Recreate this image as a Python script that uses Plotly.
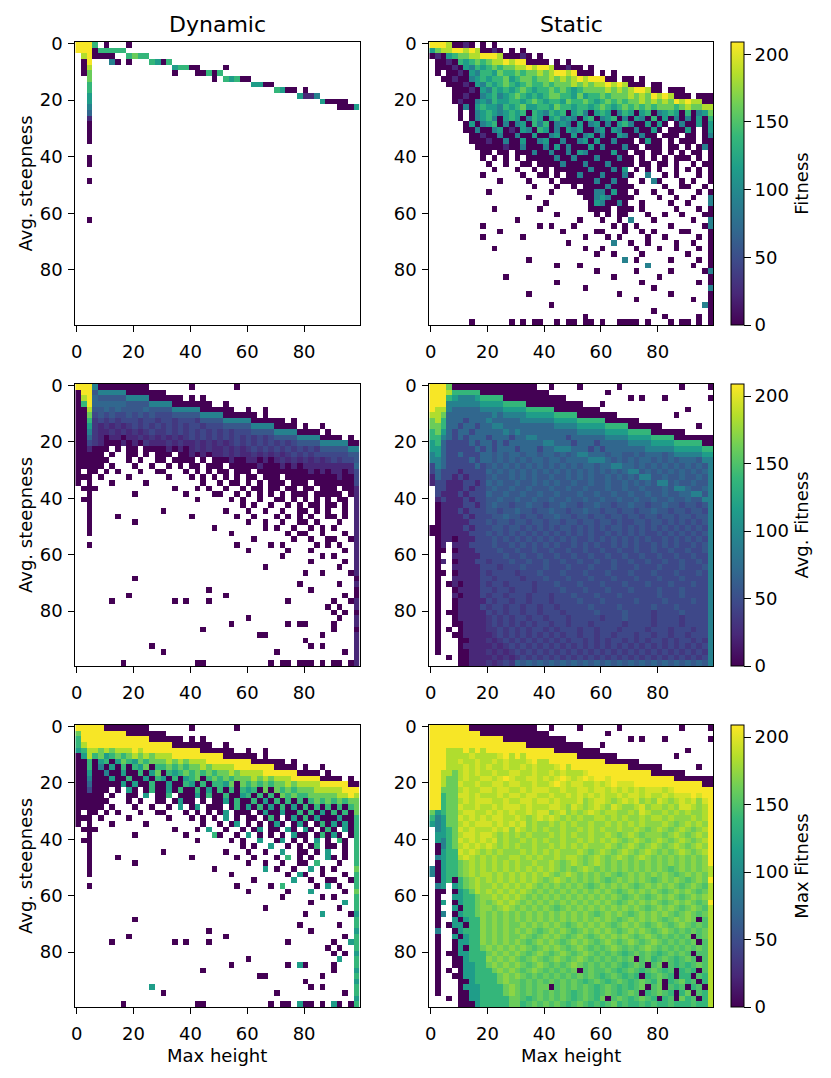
import plotly.graph_objects as go

# 2x2-bin cells, one character per cell:
# '.' = empty bin, digit d = fitness d*23, letters a..i = half steps (0.5..8.5)*23
step = 23
zmax = 209
half_steps = "abcdefghi"

dyn_fitness = [
    "9996. 0...0",
    "99906 6666",
    ".8900 00..6 766",
    ".09.. .40.0 ...65 06",
    ".08.. ..... ..... ..566 00... .0",
    ".07.. ..... ..... ..0.. .0060 6",
    "..7.. ..... ..... ..... ....0 .6560 0",
    "..6.. ..... ..... ..... ..... ..... .5500",
    "..6.. ..... ..... ..... ..... ..... ..... 6500. 0",
    "..5.. ..... ..... ..... ..... ..... ..... ....5 114",
    "..5.. ..... ..... ..... ..... ..... ..... ..... ...50 000",
    "..4.. ..... ..... ..... ..... ..... ..... ..... ..... .0005",
    "..3", "..1", "..0", "..0", "..0", "..0", "", "",
    "..0", "..0", "", "", "..0", "", "", "", "", "", "", "..0",
    "", "", "", "", "", "", "", "", "", "", "", "", "", "", "", "", "", "",
]

stat_fitness = [
    "99980 010.0 .0",
    "57889 98980 010.0 .0",
    "01056 77889 99800 010.0",
    ".0010 65676 78898 99000 0.0.0",
    ".0001 05465 67677 88989 98001 00.0",
    ".0.00 10546 65766 76778 78998 9000. 0.0",
    "..001 00456 56675 67767 78787 89899 900.0 0.0",
    "...00 01054 65676 56766 76777 87878 89898 000.0 0",
    "....0 00105 46565 67656 67676 56777 78787 89980 0.000",
    "....0 01004 56456 76565 67766 57566 76777 87879 89800 0.000",
    "....0 10045 46556 65676 56657 66765 67676 77878 78798 98800",
    "..... 04056 55465 67556 65766 56656 76567 67676 77767 87788",
    "..... 0.045 65456 56065 46560 56405 65046 50560 45650 60457",
    "..... 0.045 64056 50465 05645 40560 45604 05406 05040 40506",
    "..... .0504 56040 45064 60454 05045 04056 40050 50.04 00505",
    "..... .0040 04501 05406 50405 45004 50540 04005 0.000 50.05",
    "..... ..001 00400 40050 04500 50450 40054 00400 .000. 00.04",
    "..... ..000 10040 05004 50040 04505 00400 0.050 0.0.0 00.00",
    "..... ...00 00010 04000 40504 00050 40004 00.00 0.00. 0.040",
    "..... ....0 0.00. 00040 04004 05400 00500 .00.0 0.0.0 .00.0",
    "..... ....0 .0.0. 0.000 00400 40004 00040 0.0.0 .0.00 0.0.0",
    "..... ..... 0..0. .00.0 00040 00400 04000 0.00. 00.0. .0.00",
    "..... ..... .0... 0..0. 0.000 00040 00405 .0.0. 0..0. 0.0.0",
    "..... ....0 ..... .0..0 0.0.0 04000 40004 0..4. .0.0. ..0.0",
    "..... ..... ..0.. ..0.. .0.00 00004 00400 ..0.4 0...0 .0..0",
    "..... ..... ..... ...0. ..0.. 0.000 04000 0.... .0..0 0..0.",
    "..... ..... 0.... ..... .0... .0004 40500 .0..0 ..0.. ..0.0",
    "..... ..... ..... ..0.. ..... ..004 54000 0.... 0..0. .0..4",
    "..... ..... ..... ..... 0.... ...05 40040 ..0.. ..0.. 0...4",
    "..... ..... .0... ....0 ..... ...00 00.00 0.0.. ...0. ..0.0",
    "..... ..... ..... ..... ..0.. ....0 .0.00 ...0. .0..0 ...00",
    "..... ..... ..... 0.... ..... .0... 0..0. 4...0 ..... .0..4",
    "..... ....0 ..... ....0 .0... 0.... ..0.0 .0... ..0.. ...04",
    "..... ..... ..0.. ..... ...0. ....0 0...0 ..0.0 ....0 0...0",
    "..... ....0 ..... .0... ..... ..0.. .0.0. ...0. .0... ..0.0",
    "..... ..... ..... ..... ....0 ..... ..4.. 0..0. ...0. .0..0",
    "..... ..... .0... ..... ..... ..0.. 0.... .0... 0..0. ..0.0",
    "..... ..... ..... ..... ..... ....0 ..0.. ..0.. ..... 0...0",
    "..... ..... ..... ..0.. ..... ..... ....4 .0... ..0.. ..0.0",
    "..... ..... ..... ..... ..0.. .0... ..... ...4. ..... .0..0",
    "..... ..... ..... ..... ..... ....0 ..... .0... ..0.. ...04",
    "..... ..... ...0. ..... ..... ..... ..0.. ..... 0.... ....0",
    "..... ..... ..... ..... ..0.. ..... ..... ..0.. ..... ..0.0",
    "..... ..... ..... ..... ..... ..0.. ..... ....0 ..... ....4",
    "..... ..... ..... ..0.. ..... ..... ...0. ..... ..0.. ....0",
    "..... ..... ..... ..... ..... ..... ..... .0... ..... .0..0",
    "..... ..... ..... ..... .0... ..... ..... ..... ..... ...40",
    "..... ..... ..... ..... ..... ..... ..... ....0 ..... ....0",
    "..... ..... ..... ..... ..... ..0.. ..... ..... .0... ..0.0",
    "..... ..0.. ....0 .0.00 ..0.0 0.00. 0..00 00.0. ..0.0 0.0.0",
]

dyn_avg = [
    "99940 00000 000.. ..... 0.... ...0.",
    "099c4 44440 00000 0....",
    "0893c cccc4 44400 0000. 0.0..",
    "06933 3333c ccc44 44000 0000. .0...",
    "008cc 3c3cc cc3cc cc444 44000 000.. 0..0.",
    "0072c 2c22c 2c2c2 22ccc cc444 40000 00.0.",
    "006b2 b2b22 2b22b 22b22 2bccc c4444 40000 00.0.",
    "005b1 b1b1b 2b2b2 b2b2b 22b22 2cccc c4444 0000. 0..0.",
    "004b1 1b1b1 b1b2b b2b2b 2b2b2 b2b22 2cccc 44440 000.0",
    "003b1 01101 1b1b1 b1b1b 2b2b2 b2b2b 2b2b2 cccc4 44400 00.0.",
    "002b1 00010 10b11 1b1b1 1b1b1 b1b2b 2b2b2 b2b2c ccc44 44400",
    "00100 0.0.0 0.000 01010 1b1b1 1b1b1 b2b2b 2b2b2 b2bcc ccc44",
    "00000 .0..0 0.0.0 00.00 10101 1b1b1 1b1b1 b1b2b 2b222 222cc",
    "00000 0...0 .0..0 0.000 0.0.0 00100 11010 1b1b1 b1b1b 2b22c",
    "00000 .0... 0..0. .0.0. 00.00 0.000 00100 01010 11111 11113",
    "0.00. 0.0.. .0..0 0...0 .0.0. 00.00 0.000 00000 01010 11012",
    "000.0 ....0 ..... .0... 0.0.0 .0.0. 00.00 0.000 00000 01002",
    "0.0.. .0... ..0.. ..... ..0.. 0.00. 0.0.0 00.00 0.000 00002",
    ".000. ..... ..... ..0.. .0.0. .0..0 .00.0 0.00. 00.00 0.001",
    "..0.. ..... 0.... ....0 ....0 0..0. 0.0.0 .0.00 0.000 00.01",
    ".00.. ..... ..... ..... .0... ..0.0 ..0.. 00.0. 0.0.0 .00.1",
    "..0.. ..... ..... ..... ..... ....0 .0..0 ..0.0 .00.0 0.0.1",
    "..0.. ..... ..... 0.... ..... .0... 0..0. .0..0 0.0.0 ..0.1",
    "..0.. ..0.. ..... ..... 0.... ...0. .0... 0.0.0 .0..0 0.0.1",
    "..0.. ..... 0.... ..... ..... ..... 0..0. .0..0 0.0.. .0..1",
    "..0.. ..... ..... ..... ....0 ..... ...0. 0..0. .0.0. 0...1",
    "..0.. ..... ..... ..... ..... ..0.. ..... ..0.0 0..0. ..0.1",
    "..... ..... ..... ..... ..... ..... .0... ...0. .0..0 0..01",
    "..0.. ..... ..... ..... ..... ...0. ....0 .0... ..0.0 .0..1",
    "..... ..... ..... ..... ..... ..... 0.... ..0.. .0... ..0.1",
    "..... ..... ..... ..... ..... ..... ..... .0... ...0. 0...1",
    "..... ..... ..... ..... ..... ..... ..... ..... .0... ..0.1",
    "..... ..... ..... ..... ..... ..... ...0. ..... ..... .0..1",
    "..... ..... ..... ..... ..... ..... ..... ..... 0..0. ...01",
    "..... ..... 0.... ..... ..... ..... ..... ..... ..... ....0",
    "..... ..... ..... ..... ..... ..... ..... ....0 ..... .0..1",
    "..... ..... ..... ..... ...0. ..... ..... ..... .0... ....0",
    "..... ....0 ..... ..... ..... .0... ..... ..... ..... ..0.0",
    "..... .0... ..... ..0.0 ...0. ..... ..... ..0.. ..... 0..01",
    "..... ..... ..... ..... ..... ..... ..... ..... ....0 .0..1",
    "..... ..... ..... ..... ..... ..... ..... ..... ..... 0.0.0",
    "..... ..... ..... ..... ..... ..... 0.... ..... ..... .0..1",
    "..... ..... ..... ..... ..... ..0.. ..... ..0.0 0.... 0...1",
    "..... ..... ..... ..... ..0.. ..... ..... ..... ..... 0...0",
    "..... ..... ..... ..... ..... ..... ..00. ..... ...0. ....1",
    "..... ..... ..... ..... ..... ..... ..... ..... 0.... ....1",
    "..... ..... ...0. ..... ..... ..... ..... ..... .0.0. ....1",
    "..... ..... ..... 0.... ..... ..... ..... 0.... ..... ..0.1",
    "..... ..... ..... ..... ..... ..... ..... ..... ..... ....1",
    "..... ...0. ..... ..... .00.. ..... ....0 .00.0 00.0. 00.01",
]

stat_avg = [
    "99970 00000 00000 0000. .0... .0... ...0. ..... ....0 ....0",
    "99986 66660 00000 00000 0.... ..... .0... ..... ..... .....",
    "99965 44456 66600 00000 0000. ..... ..... 0.0.. .0... ....0",
    "99944 44445 55566 66000 00000 00... 0.... ..... ..... .....",
    "98843 33334 44455 55666 66000 00000 ..... ..... ..... 0....",
    "88733 33333 34344 44555 55666 60000 000.. ..... ...0. .....",
    "78633 32333 43333 34444 44555 56666 60000 00... ..... .....",
    "77633 23323 34433 33333 33444 45555 56666 00000 0.... ..0..",
    "67532 33233 33343 43333 33333 34444 45555 66660 00000 .....",
    "66432 32333 23332 33443 33332 33333 34444 55556 66600 00000",
    "56322 22323 32323 33333 44333 23332 33333 44445 55566 66600",
    "55322 22232 32333 23332 33444 33323 23333 33344 44455 55566",
    "45322 32223 3c3c3 3c33c 33c3c 34433 3c33c c3c33 3c344 44455",
    "44322 22323 3c3c3 c3c33 c33c3 33344 43c3c 3c33c 3c3c3 33c44",
    "24322 22232 c3c3c 3c3c3 c3c3c 3c33c 33443 3c3c3 c3c3c 3c3c4",
    "23222 12222 3c3c3 c3c3c 3c3c3 c3c3c 3c3c3 44c3c 3c3c3 c3c34",
    "13221 21222 c3cc3 c3c3c c3cc3 c3c3c c3c3c 3c44c c3cc3 cc3c4",
    "12211 12212 3c3cc 3cc3c 3c3cc 3cc3c c3cc3 c3c3c 44c3c c3cc4",
    ".2211 12122 c3cc3 cc3cc c3cc3 cc3cc c3cc3 cc3cc c3c44 3cc34",
    ".2111 21222 3cc3c c3cc3 cc3cc c3cc3 cc3cc 3cc3c c3cc3 344c4",
    ".1211 12122 cc3cc 3cc3c c3cc3 cc3cc 3cc3c c3cc3 cc3cc 3cc44",
    ".0111 12212 c3cc2 cc3cc 2cc3c c2cc3 cc2cc 3cc2c c3cc2 cc2c4",
    ".0111 21222 cc2cc 3cc2c c3cc2 cc3cc 2cc2c c2cc3 cc2cc 2cc24",
    ".0111 12122 2cc3c c2cc2 cc3cc 2cc2c c2cc2 cc2cc 2cc2c c2cc4",
    ".0111 11222 c2cc2 cc2cc 2cc2c c2cc2 cc2c2 2cc2c c2c2c 2c2c4",
    "00111 12122 2cc2c c2c2c 2c2cc 2c2c2 c2cc2 c2c2c 2c2c2 c2c24",
    "00111 11222 c2c2c 2c2c2 c2c2c 2c2c2 2c2c2 c2c22 c2c2c 2c2c4",
    ".0110 11122 2c2c2 c2c2c 2c2c2 c22c2 c2c2c 2c2c2 2c2c2 c2c24",
    ".01.1 11222 2c22c 2c2c2 c2c22 c2c2c 22c2c 2c22c 2c2c2 2c2c4",
    ".00.0 11122 22c22 c22c2 2c22c 22c22 c22c2 2c22c 22c22 c22c4",
    ".0..1 11112 222c2 2c22c 22c22 c22c2 2c22c 22c22 c22c2 2c224",
    ".01.0 11122 b222c 22c22 c22c2 2c22c 22c22 c22c2 2c22c 22c24",
    ".0..1 11112 22b22 2c222 c222c 222c2 22c22 2c222 c222c 222c4",
    ".00.0 11112 b2222 b222c 222c2 22c22 2c222 c222c 222c2 22c24",
    ".0..1 11112 2b222 2b222 c222c 222c2 22c22 2c222 c222c 22224",
    ".0.01 01112 b22b2 222b2 22c22 2c222 c222c 222c2 22c22 2c224",
    ".0..0 11112 2b22b 222b2 222c2 22c22 2c222 c2222 c222c 22224",
    ".0..1 01112 b22b2 22b22 2b222 c222c 222c2 22222 c222c 22224",
    ".0..0 11111 2b22b 22b22 2b222 2c222 c2222 2c222 2c222 2c224",
    ".0..0 11112 b22b2 2b22b 22b22 222c2 222c2 2222c 222c2 22224",
    ".0.00 11111 2b2b2 2b22b 222b2 2222c 2222c 2222b 2222c 22224",
    ".0..0 11111 b2b2b 22b22 b222b 22222 b222c 2222b 2222b 22224",
    ".0..0 01111 b2b2b 2b2b2 2b22b 222b2 2222b 2222b 2222b 22224",
    ".0.0. 01111 bb2b2 b2b22 b2b22 2b22b 222b2 222b2 22b22 2b224",
    ".0..0 01111 1b2b2 b2b2b 2b2b2 2b22b 22b22 2b22b 22b22 b2224",
    ".0... 00111 b1b2b 2b2b2 b2b2b 22b2b 2b22b 2b2b2 2b2b2 2b2b4",
    ".0... 01111 1b1b2 b2b2b 2b2b2 b2b2b 2b2b2 b2b2b 2b2b2 b2b24",
    ".0... 00111 b1b1b 2b2b2 b2b2b 2b2b2 b2b2b 2b2b2 b2b2b 2b2b4",
    "...0. 00111 1b1b1 b2b2b 2b2b2 b2b2b 2b2b2 b2b2b 2b2b2 b2b24",
    "..... 00111 b1b2b 3c3c3 c3c3c 3c3c3 c3c3c 3c3c3 c3c3c 3c3c4",
]

dyn_max = [
    "99999 00000 000.. ..... 0.... ...0.",
    "79999 99990 00000 0....",
    "69999 99999 99900 0000. 0.0..",
    "68999 99999 99999 99000 0000. .0...",
    "56887 87888 98999 99999 99000 000.. 0..0.",
    "05867 56767 87878 88999 99999 90000 00.0.",
    "00605 60576 57677 78787 88899 99999 90000 00.0.",
    "00604 05060 65706 67676 77878 88899 99999 0000. 0..0.",
    "00500 40050 06057 06567 67676 77878 88899 99990 000.0",
    "00400 05006 00506 50605 67067 67677 78787 88899 99900 00.0.",
    "00300 00050 50060 05006 50606 65707 67676 77878 88899 99900",
    "00200 0.0.5 0.060 05060 06050 60606 56070 76767 77888 88999",
    "00000 .0..0 0.5.0 06.00 05060 06005 60606 07676 67777 78898",
    "00000 0...0 .0..0 0.050 0.0.0 05060 06050 60606 06767 67677",
    "00000 .0... 0..0. .0.5. 05.00 0.060 50605 06050 60606 06067",
    "0.00. 0.0.. .0..0 0...0 .0.0. 05.00 0.050 05006 06050 60607",
    "000.0 ....0 ..... .0... 0.0.0 .5.0. 00.06 0.050 60500 05006",
    "0.0.. .0... ..0.. ..... ..0.. 0.05. 0.0.0 50.05 0.060 50506",
    ".000. ..... ..... ..0.. .0.5. .0..0 .05.0 0.50. 50.06 0.506",
    "..0.. ..... 0.... ....0 ....6 0..0. 5.0.0 .0.50 0.060 50.06",
    ".00.. ..... ..... ..... .0... ..0.0 ..5.. 05.0. 0.5.0 .60.6",
    "..0.. ..... ..... ..... ..... ....0 .0..5 ..0.0 .06.0 0.0.6",
    "..0.. ..... ..... 0.... ..... .0... 0..0. .5..0 0.0.5 ..0.6",
    "..0.. ..0.. ..... ..... 0.... ...0. .0... 0.6.0 .0..5 0.0.6",
    "..0.. ..... 0.... ..... ..... ..... 0..0. .0..0 0.6.. .0..6",
    "..0.. ..... ..... ..... ....0 ..... ...5. 0..0. .5.0. 0...7",
    "..0.. ..... ..... ..... ..... ..0.. ..... ..0.5 0..0. ..0.6",
    "..... ..... ..... ..... ..... ..... .0... ...5. .0..0 0..06",
    "..0.. ..... ..... ..... ..... ...0. ....0 .6... ..0.5 .0..6",
    "..... ..... ..... ..... ..... ..... 0.... ..0.. .5... ..0.7",
    "..... ..... ..... ..... ..... ..... ..... .0... ...0. 0...6",
    "..... ..... ..... ..... ..... ..... ..... ..... .0... ..5.6",
    "..... ..... ..... ..... ..... ..... ...0. ..... ..... .0..6",
    "..... ..... ..... ..... ..... ..... ..... ..... 0..5. ...05",
    "..... ..... 0.... ..... ..... ..... ..... ..... ..... ....6",
    "..... ..... ..... ..... ..... ..... ..... ....0 ..... .0..6",
    "..... ..... ..... ..... ...0. ..... ..... ..... .0... ....5",
    "..... ....0 ..... ..... ..... .0... ..... ..... ..... ..0.6",
    "..... .0... ..... ..0.0 ...0. ..... ..... ..0.. ..... 0..56",
    "..... ..... ..... ..... ..... ..... ..... ..... ....0 .0..6",
    "..... ..... ..... ..... ..... ..... ..... ..... ..... 0.0.5",
    "..... ..... ..... ..... ..... ..... 0.... ..... ..... .5..6",
    "..... ..... ..... ..... ..... ..0.. ..... ..0.5 0.... 0...6",
    "..... ..... ..... ..... ..0.. ..... ..... ..... ..... 0...5",
    "..... ..... ..... ..... ..... ..... ..00. ..... ...0. ....6",
    "..... ..... ..... ..... ..... ..... ..... ..... 0.... ....5",
    "..... ..... ...5. ..... ..... ..... ..... ..... .0.0. ....6",
    "..... ..... ..... 0.... ..... ..... ..... 0.... ..... ..0.6",
    "..... ..... ..... ..... ..... ..... ..... ..... ..... ....5",
    "..... ...0. ..... ..... .00.. ..... ....0 .00.5 00.0. 50.06",
]

stat_max = [
    "99999 99000 00000 0000. .0... .0... ...0. ..... ....0 ....0",
    "99999 99990 00000 00000 0.... ..... .0... ..... ..... .....",
    "99999 99999 99900 00000 0000. ..... ..... 0.0.. .0... ....0",
    "99999 99999 99999 99000 00000 00... 0.... ..... ..... .....",
    "99988 89898 99999 99999 99000 00000 ..... ..... ..... 0....",
    "99988 88i88 88i98 98999 99999 90000 000.. ..... ...0. .....",
    "99988 i88i8 8i8i8 88i98 89999 99999 90000 00... ..... .....",
    "99988 8i8i8 i88i8 8i8i8 88i98 99999 99999 00000 0.... ..0..",
    "99887 8i8i8 8i88i i88i8 8i8i8 88i99 99999 99990 00000 .....",
    "99877 8i88i i8i9i 88ii8 i8i9i 8i9i9 9i999 99999 99900 00000",
    "99877 i88i8 8ii8i i88i8 8i9i8 ii88i 8i9ii i9999 99999 99900",
    "99777 8i88i i8ii8 8i8ii i88i8 8ii8i i8i8i 8i8ii i8i99 99999",
    "99677 ii8i8 88i8i i8ii8 8i88i 8i8i8 i88i8 ii8i8 8i8ii i9i99",
    "99677 8i8ii i88i8 8ii8i i8i88 8ih8i i8h8i 8ih8h i8h8i 8ihi9",
    "99677 i88i8 8i8ii i8i88 8ii8h i8h8i 8hi8h h8ih8 8h8hi i8h89",
    "75677 8ii88 i8i8i 88i8i ih8ih 8h8i8 h88hh 8hi8h h8h8h 8hh89",
    "64577 i8i8i 8ii88 i8h8i 8i8h8 h8hh8 8h8h8 hh8h8 8h8hh h8h89",
    "54577 8i8ii i8i8i 8ih8h h8h8h 8hh8h h8h8h 8h8hh h8h7h 8h8h9",
    ".4567 i8i88 8i8ih i8h8h 8hh8h h8h8h 8hh8h h8h7h 8h7h8 h7h89",
    ".5567 8ii8i i8h8h 8h8hh h8h8h 8hh8h h8h7h 8h7hh h7h8h 7h8h9",
    ".5467 i8i8i 8ih8h h8h8h 8hh8h h8h8h 8h8h7 h8h7h 8h7h8 h7h89",
    ".0467 8i8i8 i8h8h 8hh8h h8h8h 8h8hh h8h7h 8h7h8 h7h8h 7h8h9",
    ".0566 i8i8h 8h8hh h8h8h 8h8hh h8h7h 8h7h8 h7h8h 7h7h8 h7h89",
    ".4566 8i8h8 h8hh8 8h8h8 hh8h8 8h7h8 h7h8h 7h8h7 h7h7h 7h7h9",
    ".0566 7h8h8 h8h8h 8hh8h h8h7h 8h7h8 h7h7h 7h7h7 h7h7h 7h7h9",
    "40566 7h8h8 h8h8h 8h8h8 h8h7h 7h8h7 h7h7h 7h7h7 h7g7h 7h7h8",
    "40566 7h8h8 8h8h8 h8h8h 8h7h8 h7h7h 7h7g7 h7h7h 7h7g7 h7h78",
    ".0560 67h8h 8h8h8 h8h8h 7h8h7 h7h7h 7g7h7 h7h7g 7h7h7 g7h79",
    ".45.5 67h8h h8h8h 8h8h7 h7h7h 7h7g7 h7h7h 7g7h7 h7h7g 7h7g8",
    ".00.0 5678h 8h8h8 h8h7h 7h7h7 h7h7h 7h7g7 h7h7h 7g7h7 h7g78",
    ".0..5 5667h h8h8h 8h7h7 h7h7h 7h7h7 h7h7g 7h7g7 h7h7g 7h7h8",
    ".05.0 5667h 7h8h8 h7h7h 7h7h7 h7h7h 7h7g7 h7h7h 7g7h7 h7g79",
    ".0..5 0667h h7h8h 7h7h7 h7g7h 7h7h7 h7h7h 7h7g7 h7h7g 7h7g8",
    ".04.0 5667h 7h7h7 h7h7h 7h7h7 h7h7g 7h7h7 g7h7h 7h7g7 h7g78",
    ".0..5 0566h 7h7h7 h7h7h 7h7h7 h7h7h 7h7g7 h7h7h 7g7h7 h70g8",
    ".0.05 5066h 7h7h7 7h7h7 h7h7g 7h7h7 h7g7h 7h7g7 h7g7h 7g7g8",
    ".4..0 5666h 7h7h7 h7h7g 7h7h7 g7h7h 7h7g7 h7h7g 7h7g7 g7g78",
    ".0..5 0566h 7h7h7 7h7g7 h7h7g 7h7g7 h7h7h 7g7h7 g7g7g 70g78",
    ".0..0 5566h 7h7h7 h7g7h 7h7g7 h7h7g 7h7g7 h7g7h 7g7g7 g70g8",
    ".0..0 50667 h7h7h 7h7g7 h7h7g 7h7g7 g7h7g 7g7h7 g7g7g 7g7g8",
    ".0.00 55666 7h7h7 h7g7h 7g7h7 g7h7g 7g7g6 g7g7g 6g7g7 g0gg8",
    ".0..0 05666 h7h7h 7g7h7 g7h7g 7h7g7 g7g7g 70g76 g7g6g 7g0g8",
    ".0..0 05566 7h7h7 h7g7h 7g7g7 h7g7g 7g7g6 g7g0g 70g6g 6g7g8",
    ".0.0. 05566 67h7h 7g7h7 g7g7g 70g7g g7g6g 7g6g7 g6g06 g60g8",
    ".0..0 05566 667h7 h7g7g 7g7g7 g7g7g 6g7g6 g606g 7g606 60g68",
    ".0... 00566 667h7 7g7g7 g7g7g 7g6g7 g6g7g 6g7g6 706g7 6g068",
    ".0... 05556 6667h 7g7g7 70g7g 7g7g6 g7g6g 6g70g 70g6g 06g08",
    ".0... 00556 6667h 7g7g7 g7g7g 6g7g6 g7g6g 7g06g 7g606 70g68",
    "...0. 00556 66667 7g6g7 g7g7g 6g7g6 70g7g 6g7g6 06g07 6g068",
    "..... 00056 66667 76g7g 7g7g6 g7g6g 6g76g 66g6g 66g66 6g668",
]

panels = [
    (dyn_fitness, stat_fitness, "Fitness"),
    (dyn_avg, stat_avg, "Avg. Fitness"),
    (dyn_max, stat_max, "Max Fitness"),
]
col_titles = ["Dynamic", "Static"]
tick_vals = [0, 20, 40, 60, 80]
cbar_ticks = [0, 50, 100, 150, 200]


def level(c):
    if c == ".":
        return None
    if c in half_steps:
        return (half_steps.index(c) + 0.5) * step
    return int(c) * step


def to_z(rows):
    z = []
    for row in rows:
        cells = row.replace(" ", "").ljust(50, ".")
        z.append([level(c) for c in cells])
    while len(z) < 50:
        z.append([None] * 50)
    return z


W, H = 831, 1078
OFF = 8  # the page body margin shifts the figure by this much
col_dom = [((75.3 - OFF) / W, (359.5 - OFF) / W), ((429.3 - OFF) / W, (713.0 - OFF) / W)]
row_px = [(42, 325), (384, 666), (725, 1007)]
row_dom = [(1 - (b - OFF) / H, 1 - (t - OFF) / H) for t, b in row_px]
font = "DejaVu Sans"
tick_font = dict(family=font, size=18, color="black")
label_font = dict(family=font, size=18, color="black")
title_font = dict(family=font, size=22, color="black")

fig = go.Figure()
layout = {}
for r, (left, right, label) in enumerate(panels):
    for c, grid in enumerate([left, right]):
        n = r * 2 + c + 1
        suffix = "" if n == 1 else str(n)
        cb = None
        if c == 1:
            cb = dict(
                x=(731 - OFF) / W, xanchor="left", xpad=0, ypad=0,
                y=sum(row_dom[r]) / 2, yanchor="middle",
                len=row_dom[r][1] - row_dom[r][0], lenmode="fraction",
                thickness=12.5, outlinewidth=1, outlinecolor="black",
                ticks="outside", ticklen=7, tickwidth=1, tickcolor="black",
                tickvals=cbar_ticks, tickfont=tick_font,
                title=dict(text=label, side="right", font=label_font),
            )
        fig.add_trace(go.Heatmap(
            z=to_z(grid), x0=0.5, dx=2, y0=0.5, dy=2,
            colorscale="Viridis", zmin=0, zmax=zmax,
            showscale=(c == 1), colorbar=cb,
            xaxis="x" + suffix, yaxis="y" + suffix,
        ))
        common = dict(
            showline=True, mirror=True, linecolor="black", linewidth=1.2,
            ticks="outside", ticklen=6, tickwidth=1.1, tickcolor="black",
            showgrid=False, zeroline=False, tickvals=tick_vals, automargin=False,
            tickfont=tick_font,
        )
        layout["xaxis" + suffix] = dict(common, domain=list(col_dom[c]), range=[-0.5, 99.5],
                                        anchor="y" + suffix, ticklabelstandoff=4)
        layout["yaxis" + suffix] = dict(common, domain=list(row_dom[r]), range=[99.5, -0.5],
                                        anchor="x" + suffix, ticklabelstandoff=2)

annotations = []
for c, title in enumerate(col_titles):
    xc = sum(col_dom[c]) / 2
    annotations.append(dict(text=title, x=xc, y=1 - (24 - OFF) / H, xref="paper", yref="paper",
                            xanchor="center", yanchor="middle", showarrow=False, font=title_font))
    annotations.append(dict(text="Max height", x=xc, y=1 - (1055 - OFF) / H, xref="paper",
                            yref="paper", xanchor="center", yanchor="middle", showarrow=False,
                            font=label_font))
for r in range(3):
    annotations.append(dict(text="Avg. steepness", x=(25 - OFF) / W, y=sum(row_dom[r]) / 2,
                            xref="paper", yref="paper", xanchor="center", yanchor="middle",
                            textangle=-90, showarrow=False, font=label_font))

fig.update_layout(
    template="none",
    width=W, height=H,
    margin=dict(l=0, r=0, t=0, b=0),
    paper_bgcolor="white", plot_bgcolor="white",
    font=label_font,
    annotations=annotations,
    **layout,
)
fig.write_html("out.html")
